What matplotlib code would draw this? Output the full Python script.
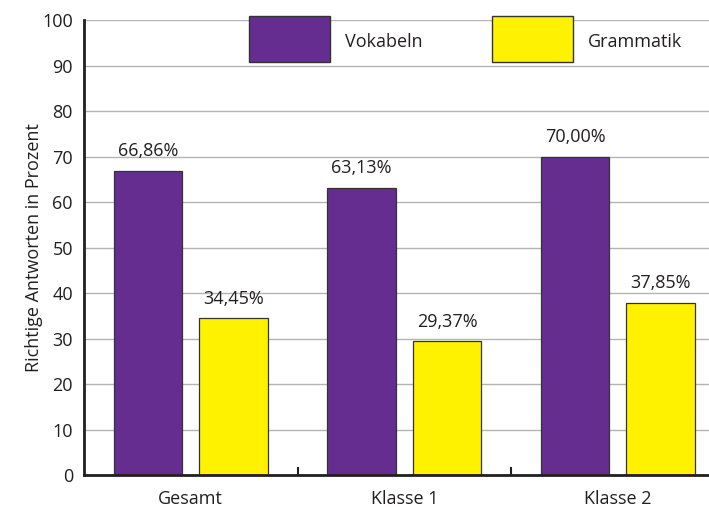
import matplotlib.pyplot as plt
from matplotlib.patches import Rectangle
import numpy as np

plt.rcParams['font.family'] = ['Open Sans', 'DejaVu Sans']

groups = ["Gesamt", "Klasse 1", "Klasse 2"]
series = ["Vokabeln", "Grammatik"]
vokabeln = [66.86, 63.13, 70.00]
grammatik = [34.45, 29.37, 37.85]
colors = ["#652d90", "#fff200"]
yticks = list(range(0, 101, 10))


def fmt(v):
    return f"{v:.2f}".replace(".", ",") + "%"


fig = plt.figure(figsize=(7.09, 5.07), dpi=100)
ax = fig.add_axes([0.1185, 0.0631, 0.8815, 0.8974])

x = np.arange(len(groups)) + 0.5
width = 0.32
for vals, off, col in [(vokabeln, -0.2, colors[0]), (grammatik, 0.2, colors[1])]:
    bars = ax.bar(x + off, vals, width, color=col, edgecolor="#333333",
                  linewidth=0.9, zorder=3)
    for b, v in zip(bars, vals):
        ax.text(b.get_x() + b.get_width() / 2, v + 2.3, fmt(v), ha="center",
                va="bottom", fontsize=13, color="#231f20")

ax.set_xlim(0, 625 / 213.5)
ax.set_ylim(0, 100)
ax.set_yticks(yticks)
ax.tick_params(axis="y", length=0, labelsize=13, colors="#231f20", pad=8)
ax.set_xticks([1, 2])
ax.set_xticklabels([])
ax.tick_params(axis="x", direction="in", length=6, width=1.5, color="#231f20")
for xc, g in zip(x, groups):
    ax.text(xc, -3.3, g, ha="center", va="top", fontsize=13, color="#231f20")

ax.grid(axis="y", color="#b4b4b4", linewidth=1, zorder=0)
for s in ["top", "right"]:
    ax.spines[s].set_visible(False)
for s in ["left", "bottom"]:
    ax.spines[s].set_linewidth(2)
    ax.spines[s].set_color("#231f20")
    ax.spines[s].set_zorder(4)

ax.set_ylabel("Richtige Antworten in Prozent", fontsize=13, color="#231f20")
ax.yaxis.set_label_coords(-0.066, 0.5)

# legend boxes at the top of the plot
for lx, tx, col, name in [(0.264, 0.4176, colors[0], series[0]),
                          (0.6528, 0.806, colors[1], series[1])]:
    ax.add_patch(Rectangle((lx, 0.9077), 0.1296, 0.1011, transform=ax.transAxes,
                           facecolor=col, edgecolor="#333333", linewidth=1,
                           clip_on=False, zorder=5))
    ax.text(tx, 0.951, name, transform=ax.transAxes, ha="left", va="center",
            fontsize=13, color="#231f20")

fig.savefig("out.png", dpi=100)
